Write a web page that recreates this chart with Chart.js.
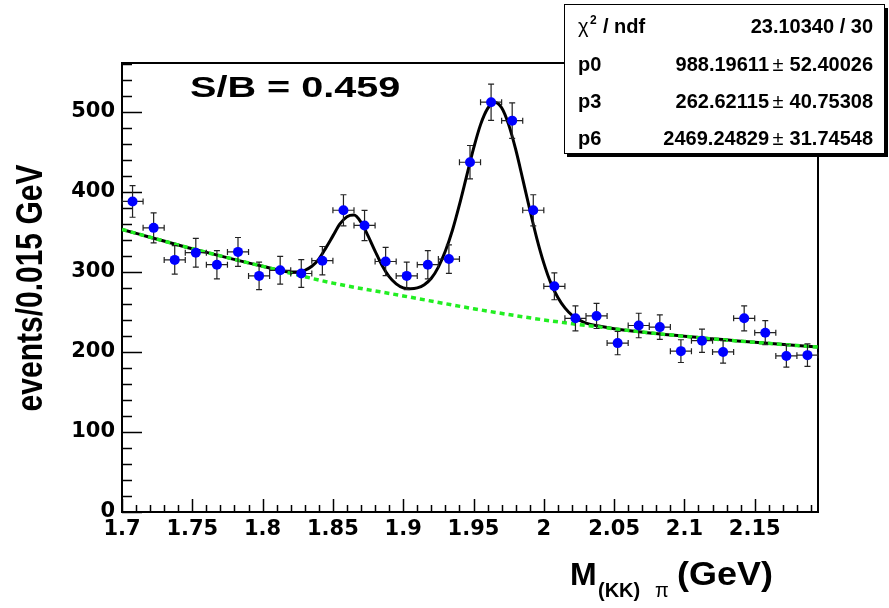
<!DOCTYPE html>
<html lang="en">
<head>
<meta charset="UTF-8">
<title>M(KK)pi mass fit</title>
<script src="https://cdn.jsdelivr.net/npm/chart.js"></script>
<style>
  body { margin: 0; background: #fff; }
  canvas { display: block; }
</style>
</head>
<body>
<canvas id="mass-chart" width="889" height="608"></canvas>
<script>
// data points: bin centres (0.015 GeV bins), counts and their errors
const binCenters = [1.7075, 1.7225, 1.7375, 1.7525, 1.7675, 1.7825, 1.7975, 1.8125, 1.8275, 1.8425, 1.8575,
                    1.8725, 1.8875, 1.9025, 1.9175, 1.9325, 1.9475, 1.9625, 1.9775, 1.9925, 2.0075, 2.0225,
                    2.0375, 2.0525, 2.0675, 2.0825, 2.0975, 2.1125, 2.1275, 2.1425, 2.1575, 2.1725, 2.1875];
const counts = [388, 355, 315, 324, 309, 325, 295, 302, 298, 314, 377,
                358, 313, 295, 309, 316, 437, 512, 489, 377, 282, 242,
                245, 211, 233, 231, 201, 214, 200, 242, 224, 195, 196];
const countErrors = [19.7, 18.8, 17.7, 18.0, 17.6, 18.0, 17.2, 17.4, 17.3, 17.7, 19.4,
                     18.9, 17.7, 17.2, 17.6, 17.8, 20.9, 22.6, 22.1, 19.4, 16.8, 15.6,
                     15.7, 14.5, 15.3, 15.2, 14.2, 14.6, 14.1, 15.6, 15.0, 14.0, 14.0];
const binHalfWidth = 0.0075;

// full fit (black) and background component (green dashed)
const fitX = [1.700, 1.750, 1.800, 1.820, 1.825, 1.830, 1.835, 1.840, 1.845, 1.850, 1.855, 1.860, 1.865,
              1.870, 1.875, 1.880, 1.885, 1.890, 1.895, 1.900, 1.905, 1.910, 1.915, 1.920, 1.925, 1.930,
              1.935, 1.940, 1.945, 1.950, 1.955, 1.960, 1.965, 1.970, 1.975, 1.980, 1.985, 1.990, 1.995,
              2.000, 2.005, 2.010, 2.015, 2.020, 2.025, 2.030, 2.040, 2.050, 2.100, 2.150, 2.195];
const fitY = [353, 329, 307, 300, 300, 302, 307, 316, 330, 345, 360, 369, 371,
              362, 345, 326, 308, 294, 285, 280, 279, 280, 284, 292, 306, 326,
              352, 384, 419, 454, 484, 504, 512, 505, 484, 453, 416, 378, 342,
              311, 286, 268, 255, 246, 240, 236, 232, 229, 219.5, 212, 206];
const bkgX = [1.700, 1.750, 1.800, 1.850, 1.900, 1.950, 2.000, 2.050, 2.100, 2.150, 2.195];
const bkgY = [353, 329, 307, 286, 270, 254, 240, 229, 219.5, 212, 206];

const xTicks = [1.7, 1.75, 1.8, 1.85, 1.9, 1.95, 2, 2.05, 2.1, 2.15];
const yTicks = [0, 100, 200, 300, 400, 500];

// fit statistics box
const chi2Text = '23.10340 / 30';
const statNames = ['p0', 'p3', 'p6'];
const statValues = ['988.19611', '262.62115', '2469.24829'];
const statErrors = ['52.40026', '40.75308', '31.74548'];
const sbText = 'S/B = 0.459';

const FONT = "'Liberation Sans', Arial, sans-serif";

// frame plus ROOT-style inward ticks
const rootFrame = {
    id: 'rootFrame',
    beforeDatasetsDraw(chart) {
        const { ctx, chartArea: a, scales: { x, y } } = chart;
        ctx.save();
        ctx.strokeStyle = '#000';
        ctx.lineWidth = 1.5;
        ctx.beginPath();
        for (let i = 0; i <= 49; i++) {
            const px = Math.round(x.getPixelForValue(1.7 + i * 0.01)) + 0.5;
            const len = i % 5 === 0 ? 13 : 7;
            ctx.moveTo(px, a.bottom);
            ctx.lineTo(px, a.bottom - len);
        }
        for (let v = 0; v <= 560; v += 20) {
            const py = Math.round(y.getPixelForValue(v)) + 0.5;
            const len = v % 100 === 0 ? 20 : 10;
            ctx.moveTo(a.left, py);
            ctx.lineTo(a.left + len, py);
        }
        ctx.stroke();
        ctx.lineWidth = 2;
        ctx.strokeRect(a.left, a.top, a.right - a.left, a.bottom - a.top);
        ctx.restore();
    }
};

// error bars go under the markers
const errorBars = {
    id: 'errorBars',
    beforeDatasetDraw(chart, args) {
        if (args.index !== 0) return;
        const { ctx, scales: { x, y } } = chart;
        ctx.save();
        ctx.strokeStyle = '#222';
        ctx.lineWidth = 1.2;
        ctx.beginPath();
        binCenters.forEach((c, i) => {
            const px = x.getPixelForValue(c);
            const py = y.getPixelForValue(counts[i]);
            const x0 = x.getPixelForValue(c - binHalfWidth);
            const x1 = x.getPixelForValue(c + binHalfWidth);
            const y0 = y.getPixelForValue(counts[i] - countErrors[i]);
            const y1 = y.getPixelForValue(counts[i] + countErrors[i]);
            ctx.moveTo(x0, py); ctx.lineTo(x1, py);
            ctx.moveTo(x0, py - 3); ctx.lineTo(x0, py + 3);
            ctx.moveTo(x1, py - 3); ctx.lineTo(x1, py + 3);
            ctx.moveTo(px, y0); ctx.lineTo(px, y1);
            ctx.moveTo(px - 3, y0); ctx.lineTo(px + 3, y0);
            ctx.moveTo(px - 3, y1); ctx.lineTo(px + 3, y1);
        });
        ctx.stroke();
        ctx.restore();
    }
};

// titles, S/B label and the stats box
const annotations = {
    id: 'annotations',
    afterDraw(chart) {
        const { ctx } = chart;
        ctx.save();
        ctx.fillStyle = '#000';

        // y title, rotated
        ctx.save();
        ctx.translate(42, 288);
        ctx.rotate(-Math.PI / 2);
        ctx.scale(1, 1.2);
        ctx.font = `bold 30px ${FONT}`;
        ctx.textAlign = 'center';
        ctx.textBaseline = 'alphabetic';
        ctx.fillText('events/0.015 GeV', 0, 0);
        ctx.restore();

        // x title with subscript
        ctx.textBaseline = 'alphabetic';
        ctx.textAlign = 'left';
        ctx.font = `bold 32px ${FONT}`;
        ctx.fillText('M', 570, 585);
        ctx.font = `bold 20px ${FONT}`;
        ctx.fillText('(KK)', 598, 597);
        ctx.font = `20px ${FONT}`;
        ctx.fillText('\u03c0', 655, 597);
        ctx.save();
        ctx.translate(677, 585);
        ctx.scale(1.09, 1);
        ctx.font = `bold 33px ${FONT}`;
        ctx.fillText('(GeV)', 0, 0);
        ctx.restore();

        // S/B
        ctx.save();
        ctx.translate(190, 97);
        ctx.scale(1.32, 1);
        ctx.font = `bold 30px ${FONT}`;
        ctx.fillText(sbText, 0, 0);
        ctx.restore();

        // stats box with shadow
        ctx.fillRect(567, 8, 321, 149);
        ctx.fillStyle = '#fff';
        ctx.fillRect(564, 4, 321, 150);
        ctx.strokeStyle = '#000';
        ctx.lineWidth = 1;
        ctx.strokeRect(564.5, 4.5, 320, 149);
        ctx.fillStyle = '#000';

        ctx.textAlign = 'left';
        ctx.font = `20px ${FONT}`;
        ctx.fillText('\u03c7', 578, 33);
        ctx.font = `bold 12px ${FONT}`;
        ctx.fillText('2', 590, 24);
        ctx.font = `bold 20px ${FONT}`;
        ctx.fillText('/ ndf', 603, 33);
        ctx.textAlign = 'right';
        ctx.fillText(chi2Text, 873, 33);

        const rowBase = [71, 108, 145];
        statNames.forEach((name, i) => {
            const yb = rowBase[i];
            ctx.textAlign = 'left';
            ctx.fillText(name, 578, yb);
            ctx.textAlign = 'right';
            ctx.fillText(statErrors[i], 873, yb);
            ctx.textAlign = 'center';
            ctx.font = `20px ${FONT}`;
            ctx.fillText('\u00b1', 778, yb);
            ctx.font = `bold 20px ${FONT}`;
            ctx.textAlign = 'right';
            ctx.fillText(statValues[i], 769, yb);
        });
        ctx.restore();
    }
};

const tickFont = { family: "'DejaVu Sans', sans-serif", size: 21, weight: 'bold' };

new Chart(document.getElementById('mass-chart'), {
    type: 'scatter',
    data: {
        datasets: [
            {
                label: 'data',
                data: binCenters.map((c, i) => ({ x: c, y: counts[i] })),
                backgroundColor: '#0000ff',
                borderColor: '#0000ff',
                pointRadius: 5,
                pointBorderWidth: 0,
            },
            {
                label: 'background',
                data: bkgX.map((v, i) => ({ x: v, y: bkgY[i] })),
                showLine: true,
                borderColor: '#22ee22',
                borderWidth: 3.5,
                borderDash: [5, 4],
                pointRadius: 0,
                cubicInterpolationMode: 'monotone',
            },
            {
                label: 'fit',
                data: fitX.map((v, i) => ({ x: v, y: fitY[i] })),
                showLine: true,
                borderColor: '#000',
                borderWidth: 3,
                pointRadius: 0,
                cubicInterpolationMode: 'monotone',
            },
        ],
    },
    options: {
        responsive: false,
        animation: false,
        layout: { padding: { left: 0, right: 71, top: 63, bottom: 0 } },
        plugins: { legend: { display: false }, tooltip: { enabled: false } },
        scales: {
            x: {
                type: 'linear',
                min: 1.7,
                max: 2.195,
                grid: { display: false, drawTicks: false },
                border: { display: false },
                afterBuildTicks: scale => { scale.ticks = xTicks.map(v => ({ value: v })); },
                afterFit: scale => { scale.height = 96; },
                ticks: {
                    color: '#000',
                    font: tickFont,
                    padding: 5,
                    maxRotation: 0,
                    autoSkip: false,
                    callback: v => String(+v.toFixed(2)),
                },
            },
            y: {
                min: 0,
                max: 561,
                grid: { display: false, drawTicks: false },
                border: { display: false },
                afterBuildTicks: scale => { scale.ticks = yTicks.map(v => ({ value: v })); },
                afterFit: scale => { scale.width = 122; },
                ticks: {
                    color: '#000',
                    font: tickFont,
                    padding: 7,
                    autoSkip: false,
                    callback: v => v,
                },
            },
        },
    },
    plugins: [rootFrame, errorBars, annotations],
});
</script>
</body>
</html>
